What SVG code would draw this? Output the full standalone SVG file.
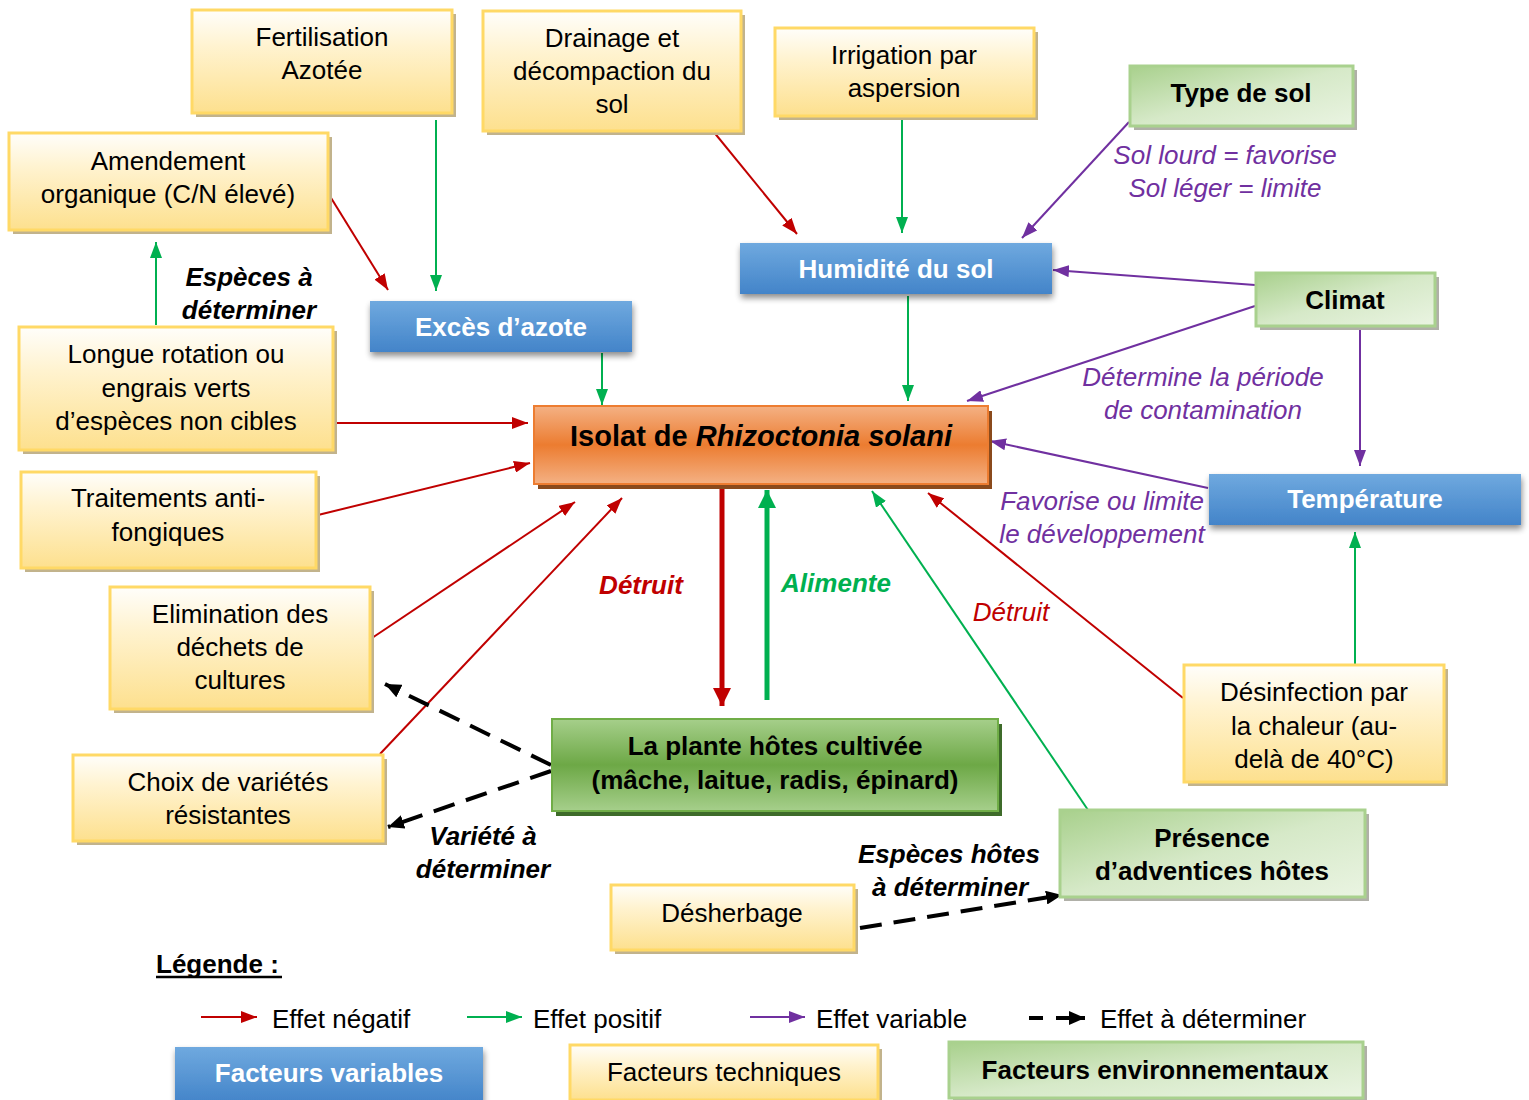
<svg xmlns="http://www.w3.org/2000/svg" width="1529" height="1100" viewBox="0 0 1529 1100">
<defs>
<style>
text{font-family:"Liberation Sans",Arial,sans-serif;font-size:26px;text-anchor:middle;fill:#000}
.b{font-weight:bold}
.w{fill:#fff;font-weight:bold}
.bi{font-weight:bold;font-style:italic}
.pi{font-style:italic;fill:#7030a0}
.tech{fill:url(#gy);stroke:#ffd966;stroke-width:3}
.tsh{fill:#c2b38c}
.var{fill:url(#gb)}
.env{fill:url(#gg);stroke:#a9d18e;stroke-width:3}
.esh{fill:#b0b0a8}
.neg{stroke:#c00000;stroke-width:2;fill:none;marker-end:url(#mr)}
.pos{stroke:#00b050;stroke-width:2;fill:none;marker-end:url(#mg)}
.vr{stroke:#7030a0;stroke-width:2;fill:none;marker-end:url(#mp)}
.das{stroke:#000;stroke-width:4;stroke-dasharray:22 12;fill:none;marker-end:url(#mk)}
</style>
<linearGradient id="gy" x1="0" y1="0" x2="0" y2="1"><stop offset="0" stop-color="#fffefb"/><stop offset="0.35" stop-color="#fff3d0"/><stop offset="1" stop-color="#fde08e"/></linearGradient>
<linearGradient id="gb" x1="0" y1="0" x2="0" y2="1"><stop offset="0" stop-color="#6fa9df"/><stop offset="1" stop-color="#4384c9"/></linearGradient>
<linearGradient id="gg" x1="0" y1="0" x2="1" y2="1"><stop offset="0" stop-color="#a8d08c"/><stop offset="0.5" stop-color="#d6e9c8"/><stop offset="1" stop-color="#eaf4e2"/></linearGradient>
<linearGradient id="gpl" x1="0" y1="0" x2="0" y2="1"><stop offset="0" stop-color="#a6cf8b"/><stop offset="0.5" stop-color="#6da846"/><stop offset="1" stop-color="#a6cf8b"/></linearGradient>
<linearGradient id="gor" x1="0" y1="0" x2="0" y2="1"><stop offset="0" stop-color="#f4b184"/><stop offset="0.5" stop-color="#ec7c30"/><stop offset="1" stop-color="#f4b184"/></linearGradient>
<filter id="sh" x="-10%" y="-20%" width="120%" height="160%"><feGaussianBlur in="SourceAlpha" stdDeviation="3"/><feOffset dx="1" dy="4"/><feComponentTransfer><feFuncA type="linear" slope="0.45"/></feComponentTransfer><feMerge><feMergeNode/><feMergeNode in="SourceGraphic"/></feMerge></filter>
<marker id="mr" viewBox="0 0 16 12" refX="16" refY="6" markerWidth="16" markerHeight="12" markerUnits="userSpaceOnUse" orient="auto"><path d="M0,0 L16,6 L0,12 z" fill="#c00000"/></marker>
<marker id="mg" viewBox="0 0 16 12" refX="16" refY="6" markerWidth="16" markerHeight="12" markerUnits="userSpaceOnUse" orient="auto"><path d="M0,0 L16,6 L0,12 z" fill="#00b050"/></marker>
<marker id="mp" viewBox="0 0 16 12" refX="16" refY="6" markerWidth="16" markerHeight="12" markerUnits="userSpaceOnUse" orient="auto"><path d="M0,0 L16,6 L0,12 z" fill="#7030a0"/></marker>
<marker id="mk" viewBox="0 0 16 14" refX="16" refY="7" markerWidth="16" markerHeight="14" markerUnits="userSpaceOnUse" orient="auto"><path d="M0,0 L16,7 L0,14 z" fill="#000"/></marker>
<marker id="mrt" viewBox="0 0 18 18" refX="18" refY="9" markerWidth="18" markerHeight="18" markerUnits="userSpaceOnUse" orient="auto"><path d="M0,0 L18,9 L0,18 z" fill="#c00000"/></marker>
<marker id="mgt" viewBox="0 0 18 18" refX="18" refY="9" markerWidth="18" markerHeight="18" markerUnits="userSpaceOnUse" orient="auto"><path d="M0,0 L18,9 L0,18 z" fill="#00b050"/></marker>
</defs>
<rect width="1529" height="1100" fill="#fff"/>

<g id="connectors">
<line class="pos" x1="436" y1="120" x2="436" y2="291"/>
<line class="pos" x1="902" y1="120" x2="902" y2="233"/>
<line class="pos" x1="602" y1="353" x2="602" y2="405"/>
<line class="pos" x1="908" y1="296" x2="908" y2="401"/>
<line class="pos" x1="156" y1="325" x2="156" y2="242"/>
<line class="pos" x1="1088" y1="810" x2="872" y2="491"/>
<line class="pos" x1="1355" y1="664" x2="1355" y2="532"/>
<line x1="767" y1="700" x2="767" y2="490" stroke="#00b050" stroke-width="5" marker-end="url(#mgt)"/>
<line class="neg" x1="328" y1="193" x2="388" y2="290"/>
<line class="neg" x1="713" y1="131" x2="797" y2="234"/>
<line class="neg" x1="333" y1="423" x2="528" y2="423"/>
<line class="neg" x1="318" y1="515" x2="530" y2="463"/>
<line class="neg" x1="369" y1="640" x2="575" y2="502"/>
<line class="neg" x1="380" y1="754" x2="622" y2="498"/>
<line class="neg" x1="1183" y1="698" x2="928" y2="493"/>
<line x1="722" y1="488" x2="722" y2="706" stroke="#c00000" stroke-width="5" marker-end="url(#mrt)"/>
<line class="vr" x1="1129" y1="122" x2="1022" y2="238"/>
<line class="vr" x1="1255" y1="285" x2="1053" y2="270"/>
<line class="vr" x1="1255" y1="306" x2="967" y2="401"/>
<line class="vr" x1="1360" y1="326" x2="1360" y2="466"/>
<line class="vr" x1="1208" y1="488" x2="990" y2="441"/>
<line class="das" x1="551" y1="765" x2="385" y2="684"/>
<line class="das" x1="551" y1="771" x2="388" y2="827"/>
<line class="das" x1="860" y1="928" x2="1062" y2="895"/>
</g>

<g id="n-fertilisation"><rect class="tsh" x="196" y="14" width="260" height="103"/><rect class="tech" x="192" y="10" width="260" height="103"/><text x="322" y="46">Fertilisation</text><text x="322" y="79">Azotée</text></g>
<g id="n-amendement"><rect class="tsh" x="13" y="137" width="319" height="97"/><rect class="tech" x="9" y="133" width="319" height="97"/><text x="168" y="170">Amendement</text><text x="168" y="203">organique (C/N élevé)</text></g>
<g id="n-drainage"><rect class="tsh" x="487" y="15" width="258" height="120"/><rect class="tech" x="483" y="11" width="258" height="120"/><text x="612" y="47">Drainage et</text><text x="612" y="80">décompaction du</text><text x="612" y="113">sol</text></g>
<g id="n-irrigation"><rect class="tsh" x="779" y="32" width="259" height="88"/><rect class="tech" x="775" y="28" width="259" height="88"/><text x="904" y="64">Irrigation par</text><text x="904" y="97">aspersion</text></g>
<g id="n-longue"><rect class="tsh" x="23" y="331" width="314" height="123"/><rect class="tech" x="19" y="327" width="314" height="123"/><text x="176" y="363">Longue rotation ou</text><text x="176" y="397">engrais verts</text><text x="176" y="430">d’espèces non cibles</text></g>
<g id="n-traitements"><rect class="tsh" x="25" y="476" width="295" height="96"/><rect class="tech" x="21" y="472" width="295" height="96"/><text x="168" y="507">Traitements anti-</text><text x="168" y="541">fongiques</text></g>
<g id="n-elimination"><rect class="tsh" x="114" y="591" width="260" height="122"/><rect class="tech" x="110" y="587" width="260" height="122"/><text x="240" y="623">Elimination des</text><text x="240" y="656">déchets de</text><text x="240" y="689">cultures</text></g>
<g id="n-choix"><rect class="tsh" x="77" y="759" width="310" height="86"/><rect class="tech" x="73" y="755" width="310" height="86"/><text x="228" y="791">Choix de variétés</text><text x="228" y="824">résistantes</text></g>
<g id="n-desinfection"><rect class="tsh" x="1188" y="669" width="260" height="117"/><rect class="tech" x="1184" y="665" width="260" height="117"/><text x="1314" y="701">Désinfection par</text><text x="1314" y="735">la chaleur (au-</text><text x="1314" y="768">delà de 40°C)</text></g>
<g id="n-desherbage"><rect class="tsh" x="615" y="889" width="243" height="65"/><rect class="tech" x="611" y="885" width="243" height="65"/><text x="732" y="922">Désherbage</text></g>

<g id="n-exces"><rect class="var" filter="url(#sh)" x="370" y="301" width="262" height="51"/><text class="w" x="501" y="336">Excès d’azote</text></g>
<g id="n-humidite"><rect class="var" filter="url(#sh)" x="740" y="243" width="312" height="51"/><text class="w" x="896" y="278">Humidité du sol</text></g>
<g id="n-temperature"><rect class="var" filter="url(#sh)" x="1209" y="474" width="312" height="51"/><text class="w" x="1365" y="508">Température</text></g>

<g id="n-typesol"><rect class="esh" x="1134" y="70" width="223" height="60"/><rect class="env" x="1130" y="66" width="223" height="60"/><text class="b" x="1241" y="102">Type de sol</text></g>
<g id="n-climat"><rect class="esh" x="1260" y="277" width="179" height="53"/><rect class="env" x="1256" y="273" width="179" height="53"/><text class="b" x="1345" y="309">Climat</text></g>
<g id="n-presence"><rect class="esh" x="1064" y="814" width="305" height="87"/><rect class="env" x="1060" y="810" width="305" height="87"/><text class="b" x="1212" y="847">Présence</text><text class="b" x="1212" y="880">d’adventices hôtes</text></g>

<g id="n-isolat"><rect x="538" y="411" width="454" height="78" fill="#8a4a1c"/><rect x="534" y="406" width="454" height="78" fill="url(#gor)" stroke="#ed7d31" stroke-width="2"/><text class="b" x="761" y="446" style="font-size:29px">Isolat de <tspan font-style="italic">Rhizoctonia solani</tspan></text></g>
<g id="n-plante"><rect x="556" y="724" width="446" height="92" fill="#3e6b2a"/><rect x="552" y="719" width="446" height="92" fill="url(#gpl)" stroke="#70ad47" stroke-width="2"/><text class="b" x="775" y="755">La plante hôtes cultivée</text><text class="b" x="775" y="789">(mâche, laitue, radis, épinard)</text></g>

<g id="labels">
<text class="bi" x="249" y="286">Espèces à</text><text class="bi" x="249" y="319">déterminer</text>
<text class="pi" x="1225" y="164">Sol lourd = favorise</text><text class="pi" x="1225" y="197">Sol léger = limite</text>
<text class="pi" x="1203" y="386">Détermine la période</text><text class="pi" x="1203" y="419">de contamination</text>
<text class="pi" x="1102" y="510">Favorise ou limite</text><text class="pi" x="1102" y="543">le développement</text>
<text class="bi" x="641" y="594" fill="#c00000" style="fill:#c00000">Détruit</text>
<text class="bi" x="836" y="592" style="fill:#00b050">Alimente</text>
<text x="1011" y="621" style="fill:#c00000;font-style:italic">Détruit</text>
<text class="bi" x="483" y="845">Variété à</text><text class="bi" x="483" y="878">déterminer</text>
<text class="bi" x="949" y="863">Espèces hôtes</text><text class="bi" x="950" y="896">à déterminer</text>
</g>

<g id="legend">
<text class="b" x="156" y="973" style="text-anchor:start">Légende :</text>
<line x1="156" y1="977" x2="282" y2="977" stroke="#000" stroke-width="2.5"/>
<line class="neg" x1="201" y1="1017" x2="257" y2="1017"/><text x="272" y="1028" style="text-anchor:start">Effet négatif</text>
<line class="pos" x1="467" y1="1017" x2="522" y2="1017"/><text x="533" y="1028" style="text-anchor:start">Effet positif</text>
<line class="vr" x1="750" y1="1017" x2="805" y2="1017"/><text x="816" y="1028" style="text-anchor:start">Effet variable</text>
<line x1="1029" y1="1018" x2="1043" y2="1018" stroke="#000" stroke-width="4"/><line x1="1056" y1="1018" x2="1085" y2="1018" stroke="#000" stroke-width="4" marker-end="url(#mk)"/><text x="1100" y="1028" style="text-anchor:start">Effet à déterminer</text>
<g id="leg-variables"><rect class="var" filter="url(#sh)" x="175" y="1047" width="308" height="56"/><text class="w" x="329" y="1082">Facteurs variables</text></g>
<g id="leg-techniques"><rect class="tsh" x="574" y="1049" width="308" height="55"/><rect class="tech" x="570" y="1045" width="308" height="55"/><text x="724" y="1081">Facteurs techniques</text></g>
<g id="leg-env"><rect class="esh" x="953" y="1046" width="414" height="56"/><rect class="env" x="949" y="1042" width="414" height="56"/><text class="b" x="1155" y="1079">Facteurs environnementaux</text></g>
</g>
</svg>
